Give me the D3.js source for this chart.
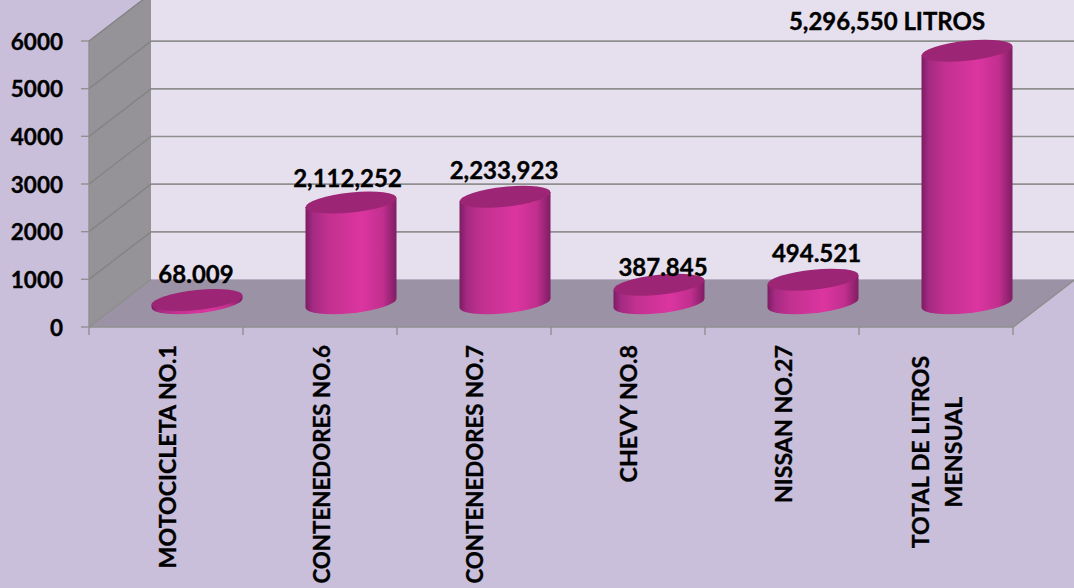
<!DOCTYPE html>
<html><head><meta charset="utf-8">
<script src="https://cdn.jsdelivr.net/npm/d3@7/dist/d3.min.js"></script>
<style>html,body{margin:0;padding:0;background:#c9bfdb;overflow:hidden}svg{display:block}text{font-family:Lato,"Open Sans",sans-serif;font-weight:700;fill:#000;stroke:#000;stroke-width:.35px}</style>
</head><body><svg id="c" width="1074" height="588"></svg>
<script>
const categories=[["MOTOCICLETA NO.1"],["CONTENEDORES NO.6"],["CONTENEDORES NO.7"],["CHEVY NO.8"],["NISSAN NO.27"],["TOTAL DE LITROS","MENSUAL"]];
const values=[68,2112,2234,388,495,5297];
const valueLabels=["68.009","2,112,252","2,233,923","387.845","494.521","5,296,550 LITROS"];
const yTicks=[0,1000,2000,3000,4000,5000,6000];

const svg=d3.select("#c");
const W=1074,H=588,x0=89,x1=1013,dx=62,dy=47.5;
const x=d3.scaleBand().domain(d3.range(categories.length)).range([x0,x1]);
const y=d3.scaleLinear().domain([0,6000]).range([327,41]);
const defs=svg.append("defs");
const grad=defs.append("linearGradient").attr("id","cyl");
[[0,"#7d1c63"],[.08,"#a32a82"],[.25,"#c2318f"],[.62,"#dc35a0"],[.85,"#c12f8e"],[1,"#7f1d64"]].forEach(s=>grad.append("stop").attr("offset",s[0]).attr("stop-color",s[1]));

svg.append("rect").attr("width",W).attr("height",H).attr("fill","#c9bfdb");
const g=svg.append("g");
g.append("path").attr("d",`M${x0+dx},0 H${W} V${y(0)-dy} H${x0+dx} Z`).attr("fill","#e6e0ee");
g.append("path").attr("d",`M${x0},${y(6000)} L${x0+dx},${y(6000)-dy} V${y(0)-dy} L${x0},${y(0)} Z`).attr("fill","#959397");
g.append("path").attr("d",`M${x0},${y(0)} L${x0+dx},${y(0)-dy} H${x1+dx} L${x1},${y(0)} Z`).attr("fill","#9c92a6");
const gridColor="#8f8f8f", wallLine="#848484";
yTicks.forEach(t=>{
  const yy=y(t);
  if(t===0){
    g.append("path").attr("fill","none").attr("stroke",gridColor).attr("stroke-width",1.6)
     .attr("d",`M${x0},${yy} L${x0+dx},${yy-dy} M${x1},${yy} L${x1+dx},${yy-dy}`);
  } else {
    g.append("line").attr("x1",x0).attr("y1",yy).attr("x2",x0+dx).attr("y2",yy-dy).attr("stroke",wallLine).attr("stroke-width",1.5);
    g.append("line").attr("x1",x0+dx).attr("y1",yy-dy).attr("x2",W).attr("y2",yy-dy).attr("stroke",gridColor).attr("stroke-width",1.6);
  }
  g.append("line").attr("x1",x0-8).attr("x2",x0).attr("y1",yy).attr("y2",yy).attr("stroke",gridColor).attr("stroke-width",1.4);
});
g.append("line").attr("x1",x0).attr("x2",x0).attr("y1",y(6000)).attr("y2",y(0)).attr("stroke",gridColor).attr("stroke-width",1.4);
g.append("line").attr("x1",x0).attr("x2",x1).attr("y1",y(0)).attr("y2",y(0)).attr("stroke",gridColor).attr("stroke-width",1.6);
d3.range(categories.length+1).forEach(i=>{
  const xx=x0+i*x.bandwidth();
  g.append("line").attr("x1",xx).attr("x2",xx).attr("y1",y(0)).attr("y2",y(0)+8).attr("stroke",gridColor).attr("stroke-width",1.4);
});
svg.selectAll("text.yl").data(yTicks).join("text").attr("class","yl").attr("x",63).attr("y",d=>y(d)+8.5)
  .attr("text-anchor","end").attr("font-size",22.5).text(d=>d);
const a=45.5,b=10,k=0.1;
const cx=i=>x(i)+x.bandwidth()/2+dx/2;
const bar=svg.selectAll("g.bar").data(values).join("g").attr("class","bar")
  .attr("transform",(d,i)=>`matrix(1,${-k},0,1,${cx(i)},0)`);
const base=y(0)-dy/2;
const topY=d=>base-(y(0)-y(d));
bar.append("path").attr("fill","url(#cyl)")
  .attr("d",d=>`M${-a},${topY(d)} V${base} A${a},${b} 0 0 0 ${a},${base} V${topY(d)} Z`);
bar.append("ellipse").attr("cx",0).attr("cy",d=>topY(d)).attr("rx",a).attr("ry",b).attr("fill","#9c2675");
const labelNudgeX=[-1,-3.5,-1,4,3.5,-80],labelNudgeY=[-17,-15.6,-17.8,-8.8,-17.7,-20.8];
svg.selectAll("text.vl").data(valueLabels).join("text").attr("class","vl")
  .attr("x",(d,i)=>cx(i)+labelNudgeX[i])
  .attr("y",(d,i)=>topY(values[i])+labelNudgeY[i])
  .attr("text-anchor","middle").attr("font-size",24).text(d=>d);
const catBaseX=[10,10,9,9,10,-7];
const catSize=[23.2,22.3,22.3,23.2,23.2,23.2];
categories.forEach((c,i)=>{
  const bx=x(i)+x.bandwidth()/2+catBaseX[i];
  const t=svg.append("text").attr("font-size",catSize[i]);
  if(c.length>1){
    t.attr("text-anchor","middle").attr("transform",`translate(${bx},452) rotate(-90)`);
    c.forEach((s,j)=>t.append("tspan").attr("x",0).attr("dy",j?33:0).text(s));
  } else {
    t.attr("text-anchor","end").attr("transform",`translate(${bx},345) rotate(-90)`).text(c[0]);
  }
});
</script></body></html>
